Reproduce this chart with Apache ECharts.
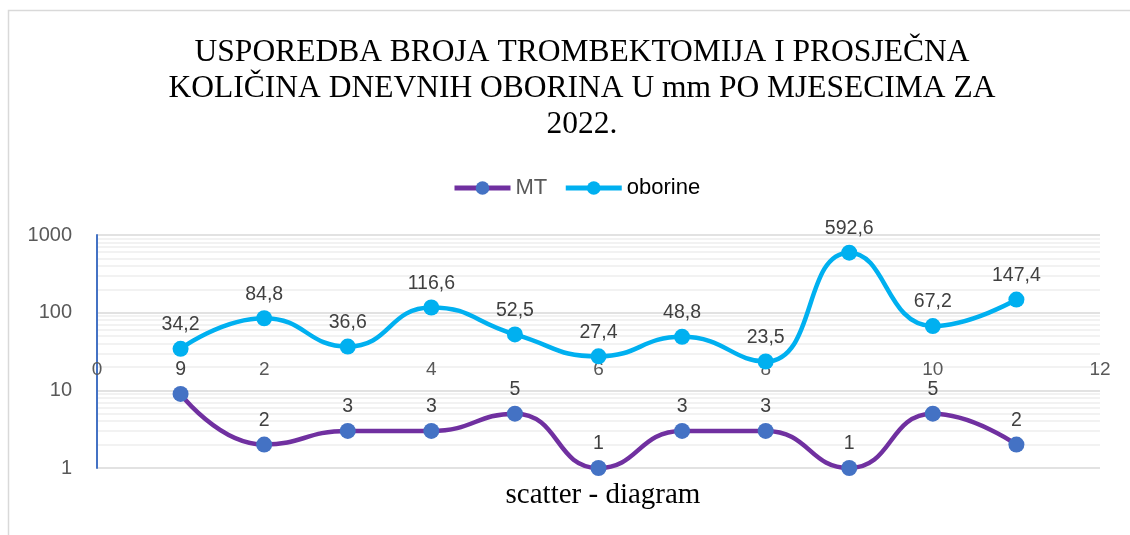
<!DOCTYPE html>
<html>
<head>
<meta charset="utf-8">
<script src="https://cdn.jsdelivr.net/npm/echarts@6/dist/echarts.min.js"></script>
<style>
  html, body { margin: 0; padding: 0; background: #fff; }
  #chart { width: 1130px; height: 535px; }
</style>
</head>
<body>
<div id="chart"></div>
<script>
(function () {
    // podaci po mjesecima (x = redni broj mjeseca)
    const months = [1, 2, 3, 4, 5, 6, 7, 8, 9, 10, 11];
    const mt = [9, 2, 3, 3, 5, 1, 3, 3, 1, 5, 2];
    const oborine = [34.2, 84.8, 36.6, 116.6, 52.5, 27.4, 48.8, 23.5, 592.6, 67.2, 147.4];
    const minorLines = [2, 3, 4, 5, 6, 7, 8, 9, 20, 30, 40, 50, 60, 70, 80, 90, 200, 300, 400, 500, 600, 700, 800, 900];

    const sans = 'Liberation Sans';
    const fmt = function (p) { return String(p.value[1]).replace('.', ','); };
    const pairs = function (ys) { return months.map(function (m, i) { return [m, ys[i]]; }); };

    let option = {
        animation: false,
        title: [
            {
                text: 'USPOREDBA BROJA TROMBEKTOMIJA I PROSJEČNA\nKOLIČINA DNEVNIH OBORINA U mm PO MJESECIMA ZA\n2022.',
                left: 577,
                top: 30,
                textAlign: 'center',
                textStyle: { fontFamily: 'Liberation Serif', fontSize: 31.5, fontWeight: 'normal', color: '#000', lineHeight: 36 }
            },
            {
                text: 'scatter - diagram',
                left: 598,
                top: 476,
                textAlign: 'center',
                textStyle: { fontFamily: 'Liberation Serif', fontSize: 29, fontWeight: 'normal', color: '#000' }
            }
        ],
        graphic: [
            { type: 'rect', shape: { x: 8.5, y: 10.5, width: 1200, height: 600 }, style: { fill: 'none', stroke: '#d9d9d9', lineWidth: 1.5 }, silent: true }
        ],
        legend: {
            top: 172,
            left: 447,
            itemWidth: 56,
            itemHeight: 17,
            itemGap: 16,
            textStyle: { fontFamily: sans, fontSize: 22, color: '#404040' },
            data: [
                { name: 'MT', textStyle: { color: '#595959' }, lineStyle: { width: 5 } },
                { name: 'oborine', textStyle: { color: '#000' }, lineStyle: { width: 5 } }
            ]
        },
        grid: { left: 97, right: 30, top: 235, bottom: 67 },
        xAxis: {
            type: 'value',
            min: 0,
            max: 12,
            interval: 2,
            offset: -108,
            axisLine: { show: false },
            axisTick: { show: false },
            splitLine: { show: false },
            axisLabel: { margin: 0, fontFamily: sans, fontSize: 19, color: '#595959' }
        },
        yAxis: {
            type: 'log',
            logBase: 10,
            min: 1,
            max: 1000,
            axisLine: { show: true, lineStyle: { color: '#4472C4', width: 2 } },
            axisTick: { show: false },
            axisLabel: { margin: 25, fontFamily: sans, fontSize: 20, color: '#595959', formatter: function (v) { return String(v); } },
            splitLine: { show: true, lineStyle: { color: '#d9d9d9', width: 1.5 } }
        },
        series: [
            {
                name: 'grid-minor',
                type: 'line',
                data: [],
                z: 0,
                silent: true,
                markLine: {
                    z: 0,
                    silent: true,
                    animation: false,
                    symbol: ['none', 'none'],
                    label: { show: false },
                    emphasis: { disabled: true },
                    lineStyle: { color: '#eeeeee', width: 1.5, type: 'solid' },
                    data: minorLines.map(function (v) { return { yAxis: v }; })
                }
            },
            {
                name: 'MT',
                type: 'line',
                data: pairs(mt),
                smooth: 0.5,
                symbol: 'circle',
                symbolSize: 16,
                lineStyle: { color: '#7030A0', width: 4.5 },
                itemStyle: { color: '#4472C4' },
                label: { show: true, position: 'top', distance: 6, formatter: fmt, fontFamily: sans, fontSize: 19.5, color: '#404040' },
                z: 3
            },
            {
                name: 'oborine',
                type: 'line',
                data: pairs(oborine),
                smooth: 0.5,
                symbol: 'circle',
                symbolSize: 16,
                lineStyle: { color: '#00B0F0', width: 4.5 },
                itemStyle: { color: '#00B0F0' },
                label: { show: true, position: 'top', distance: 6, formatter: fmt, fontFamily: sans, fontSize: 19.5, color: '#404040' },
                z: 4
            }
        ]
    };

    let myChart = echarts.init(document.getElementById('chart'));
    myChart && myChart.setOption(option);
}());
</script>
</body>
</html>
